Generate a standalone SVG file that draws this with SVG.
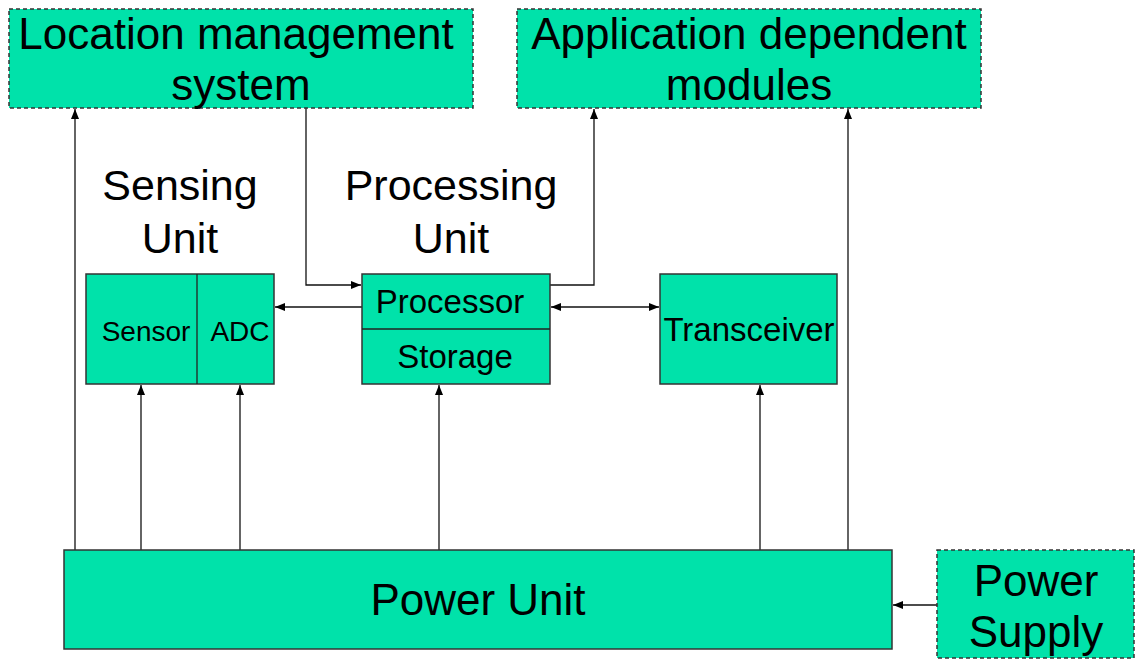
<svg xmlns="http://www.w3.org/2000/svg" width="1135" height="660" viewBox="0 0 1135 660">
  <style>
    .box { fill: #00E2AA; stroke: #333; stroke-width: 1.5; }
    .dash { stroke-dasharray: 4 3; }
    .div { stroke: #222; stroke-width: 1.3; fill: none; }
    .t { font-family: "Liberation Sans", Arial, sans-serif; fill: #000; text-anchor: middle; }
    .big { font-size: 44px; }
    .title { font-size: 43px; }
    .mid { font-size: 33px; }
    .sm { font-size: 28px; }
    .wire { fill: none; stroke: #111; stroke-width: 1.3; }
  </style>
  <defs>
    <marker id="ah" markerUnits="userSpaceOnUse" markerWidth="10" markerHeight="10" refX="10" refY="5" orient="auto-start-reverse">
      <path d="M0,1 L10,5 L0,9 z" fill="#000"/>
    </marker>
  </defs>

  <rect width="1135" height="660" fill="#fff"/>

  <!-- connectors -->
  <g id="connectors" class="wire">
    <path d="M75,550 V109" marker-end="url(#ah)"/>
    <path d="M306,108 V285 H361" marker-end="url(#ah)"/>
    <path d="M550,285 H594 V109" marker-end="url(#ah)"/>
    <path d="M848,550 V109" marker-end="url(#ah)"/>
    <path d="M362,307 H275" marker-end="url(#ah)"/>
    <path d="M551,307 H659" marker-start="url(#ah)" marker-end="url(#ah)"/>
    <path d="M141,550 V385" marker-end="url(#ah)"/>
    <path d="M240,550 V385" marker-end="url(#ah)"/>
    <path d="M439,550 V385" marker-end="url(#ah)"/>
    <path d="M760,550 V385" marker-end="url(#ah)"/>
    <path d="M937,605 H893" marker-end="url(#ah)"/>
  </g>

  <g id="location-management">
    <rect class="box dash" x="9" y="9" width="464" height="99"/>
    <text class="t big" x="236" y="49">Location management</text>
    <text class="t big" x="241" y="100">system</text>
  </g>

  <g id="application-modules">
    <rect class="box dash" x="517" y="9" width="464" height="99"/>
    <text class="t big" x="749" y="49">Application dependent</text>
    <text class="t big" x="749" y="100">modules</text>
  </g>

  <g id="sensing-unit-label">
    <text class="t title" x="180" y="200">Sensing</text>
    <text class="t title" x="180" y="253">Unit</text>
  </g>

  <g id="processing-unit-label">
    <text class="t title" x="451" y="200">Processing</text>
    <text class="t title" x="451" y="253">Unit</text>
  </g>

  <g id="sensing-unit">
    <rect class="box" x="86" y="274" width="188" height="110"/>
    <line class="div" x1="197" y1="274" x2="197" y2="384"/>
    <text class="t sm" x="146" y="341">Sensor</text>
    <text class="t sm" x="240" y="341">ADC</text>
  </g>

  <g id="processing-unit">
    <rect class="box" x="362" y="274" width="188" height="110"/>
    <line class="div" x1="362" y1="329" x2="550" y2="329"/>
    <text class="t mid" x="450" y="313">Processor</text>
    <text class="t mid" x="455" y="368">Storage</text>
  </g>

  <g id="transceiver">
    <rect class="box" x="660" y="274" width="177" height="110"/>
    <text class="t mid" x="749" y="341">Transceiver</text>
  </g>

  <g id="power-unit">
    <rect class="box" x="64" y="550" width="828" height="99"/>
    <text class="t big" x="478" y="615">Power Unit</text>
  </g>

  <g id="power-supply">
    <rect class="box dash" x="937" y="550" width="197" height="108"/>
    <text class="t big" x="1036" y="596">Power</text>
    <text class="t big" x="1036" y="647">Supply</text>
  </g>
</svg>
